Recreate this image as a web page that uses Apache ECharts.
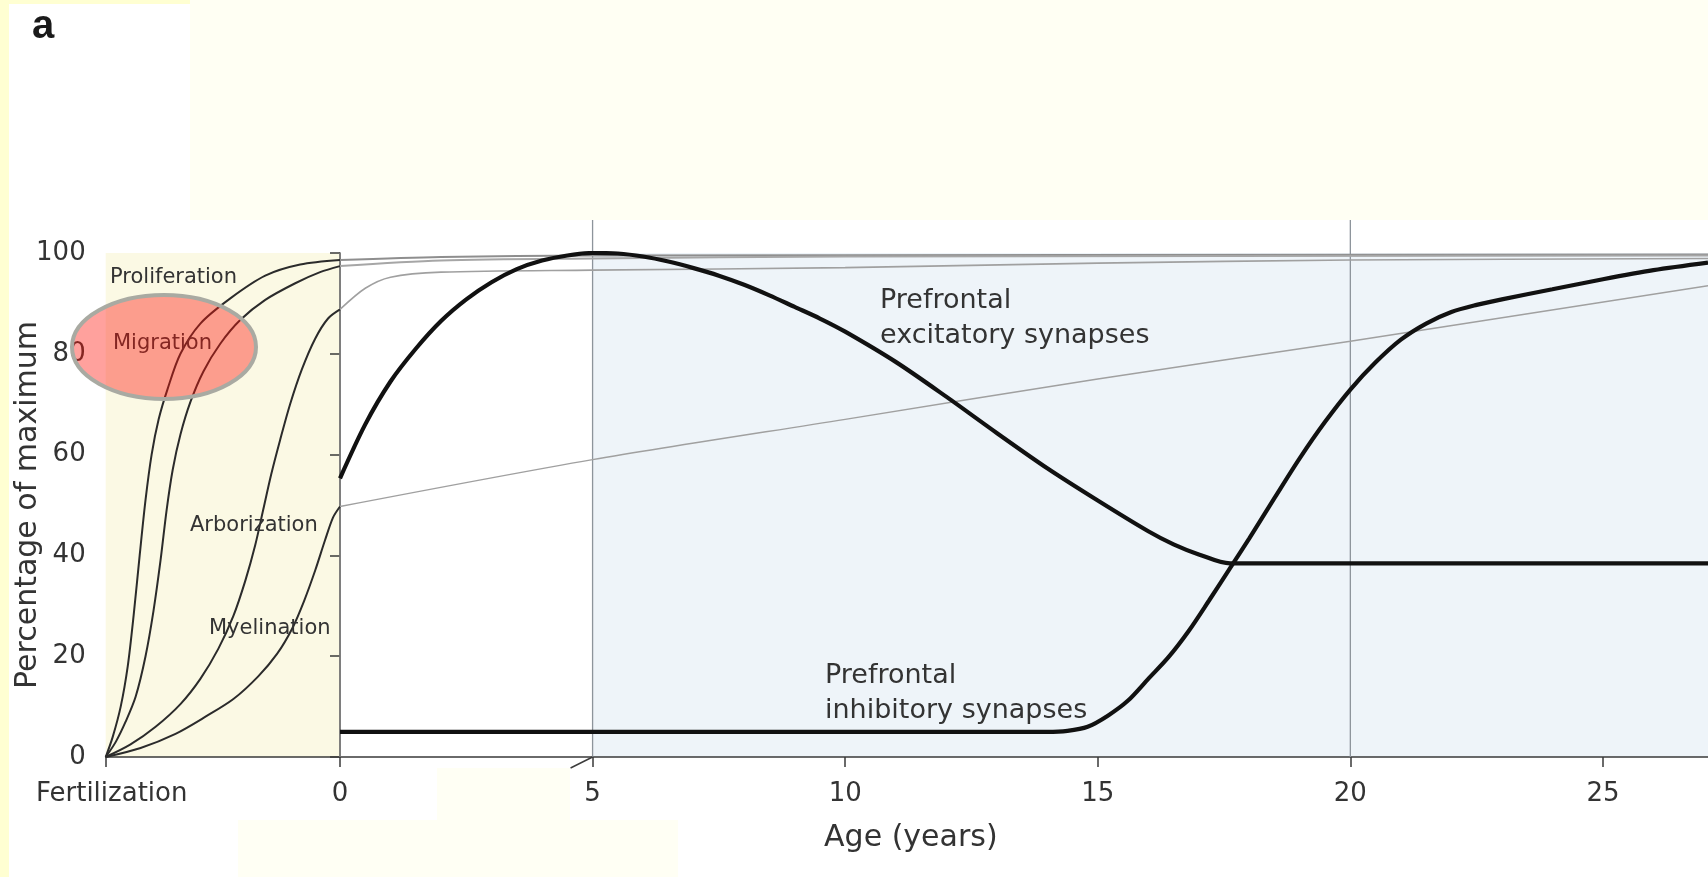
<!DOCTYPE html>
<html>
<head>
<meta charset="utf-8">
<title>Brain development</title>
<script src="https://cdn.jsdelivr.net/npm/echarts@6/dist/echarts.min.js"></script>
<style>
  html, body { margin: 0; padding: 0; background: #ffffd2; }
  #chart { width: 1708px; height: 877px; }
</style>
</head>
<body>
<div id="chart"></div>
<script>
  // axis units given to gestation (fertilization -> birth), the prenatal part is stretched
  const PRE_SPAN = 4.638;
  const X_MAX = 27.08;

  const xTickValues = [-PRE_SPAN, 0, 5, 10, 15, 20, 25];
  const xTickLabels = ['Fertilization', '0', '5', '10', '15', '20', '25'];

  // prenatal curves: [fraction of gestation, % of maximum]
  const proliferationPre = [[0, 0], [0.03, 4], [0.064, 10], [0.094, 18], [0.119, 28], [0.145, 40], [0.17, 51], [0.196, 60], [0.226, 67], [0.264, 73], [0.319, 80], [0.404, 86], [0.532, 91], [0.681, 95.5], [0.83, 97.7], [1, 98.6]];
  const migrationPre = [[0, 0], [0.043, 3], [0.085, 7], [0.128, 12], [0.17, 20], [0.204, 29], [0.234, 39], [0.26, 49], [0.286, 57], [0.319, 64], [0.362, 70.5], [0.417, 76.5], [0.489, 82], [0.574, 86.7], [0.681, 90.7], [0.809, 94], [0.915, 96.2], [1, 97.4]];
  const arborizationPre = [[0, 0], [0.106, 2.5], [0.213, 6], [0.319, 10.5], [0.404, 15.5], [0.481, 21.5], [0.545, 28], [0.596, 35], [0.638, 42], [0.672, 49], [0.706, 56], [0.745, 63], [0.787, 70], [0.838, 77], [0.894, 83], [0.949, 87], [1, 88.8]];
  const myelinationPre = [[0, 0], [0.149, 1.8], [0.298, 4.6], [0.426, 8], [0.545, 11.5], [0.651, 16], [0.732, 20.5], [0.796, 25.5], [0.847, 31], [0.894, 37], [0.936, 43], [0.97, 47.5], [1, 49.7]];

  // postnatal continuations: [age in years, %]
  const proliferationPost = [[0, 98.6], [2, 99.2], [5, 99.5], [27.08, 99.7]];
  const migrationPost = [[0, 97.4], [2, 98.5], [5, 98.9], [10, 99.3], [27.08, 99.5]];
  const arborizationPost = [[0, 88.8], [0.5, 93], [1, 95.2], [2, 96.2], [5, 96.6], [10, 97.1], [15, 98], [20, 98.6], [27.08, 98.9]];
  const myelinationPost = [[0, 49.7], [5, 59], [10, 67], [15, 75], [20, 82.5], [27.08, 93.5]];

  // prefrontal synapses
  const excitatory = [[0, 55.3], [0.5, 66], [1, 74.5], [1.5, 81], [2, 86.5], [2.5, 90.8], [3, 94.2], [3.5, 96.8], [4, 98.5], [4.5, 99.5], [5, 100], [5.5, 99.9], [6, 99.3], [6.5, 98.3], [7, 97], [7.5, 95.5], [8, 93.7], [8.5, 91.6], [9, 89.3], [9.5, 87], [10, 84.4], [11, 78.4], [12, 71.5], [13, 64.3], [14, 57.3], [15, 50.9], [16, 44.8], [16.5, 42.2], [17, 40.2], [17.62, 38.4], [17.9, 38.4], [27.08, 38.4]];
  const inhibitory = [[0, 5], [14, 5], [14.4, 5.2], [14.8, 6], [15.2, 8.2], [15.6, 11.2], [16, 15.5], [16.4, 19.8], [16.8, 25], [17.2, 31], [17.68, 38.4], [18, 43.4], [18.5, 51.4], [19, 59.3], [19.5, 66.5], [20, 72.9], [20.5, 78.3], [21, 82.8], [21.5, 86], [22, 88.3], [22.5, 89.7], [23, 90.8], [24, 92.8], [25, 94.8], [26, 96.6], [27.08, 98.1]];

  const FONT = 'DejaVu Sans';
  const toAxis = (pts) => pts.map((p) => [(p[0] - 1) * PRE_SPAN, p[1]]);

  function curve(name, data, color, width, z) {
    return {
      name: name,
      type: 'line',
      data: data,
      showSymbol: false,
      smooth: 0.3,
      silent: true,
      z: z,
      lineStyle: { color: color, width: width },
    };
  }

  const chart = echarts.init(document.getElementById('chart'), null, { renderer: 'canvas' });

  const option = {
    animation: false,
    backgroundColor: 'transparent',
    grid: { left: 105.7, right: 0, top: 253, bottom: 120, outerBoundsMode: 'none' },
    xAxis: {
      type: 'value',
      min: -PRE_SPAN,
      max: X_MAX,
      splitLine: { show: false },
      axisLine: { show: true, lineStyle: { color: '#3a3a3a', width: 1.5 } },
      axisTick: { show: true, length: 10, customValues: xTickValues, lineStyle: { color: '#3a3a3a', width: 1.5 } },
      axisLabel: {
        customValues: xTickValues,
        margin: 24,
        fontSize: 26,
        fontFamily: FONT,
        color: '#333',
        formatter: (v) => {
          const i = xTickValues.findIndex((t) => Math.abs(t - v) < 1e-6);
          if (i === 0) {
            return '{fert|' + xTickLabels[0] + '}';
          }
          return i >= 0 ? xTickLabels[i] : '';
        },
        rich: {
          fert: { padding: [0, 0, 0, 12], fontSize: 26, fontFamily: FONT, color: '#333' },
        },
      },
      name: 'Age (years)',
      nameLocation: 'middle',
      nameGap: 66,
      nameMoveOverlap: false,
      nameTextStyle: { fontSize: 30, fontFamily: FONT, color: '#333', padding: [0, 0, 0, 8] },
    },
    yAxis: {
      type: 'value',
      min: 0,
      max: 100,
      interval: 20,
      splitLine: { show: false },
      axisLine: { show: true, lineStyle: { color: '#3a3a3a', width: 1.5 } },
      axisTick: { show: true, length: 10, lineStyle: { color: '#3a3a3a', width: 1.5 } },
      axisLabel: { margin: 20, fontSize: 26, fontFamily: FONT, color: '#333' },
      name: 'Percentage of maximum',
      nameLocation: 'middle',
      nameGap: 62,
      nameMoveOverlap: false,
      nameTextStyle: { fontSize: 30, fontFamily: FONT, color: '#333' },
    },
    series: [
      curve('Proliferation', toAxis(proliferationPre), '#2b2b2b', 2, 3),
      curve('Migration', toAxis(migrationPre), '#2b2b2b', 2, 3),
      curve('Arborization', toAxis(arborizationPre), '#2b2b2b', 2, 3),
      curve('Myelination', toAxis(myelinationPre), '#2b2b2b', 2, 3),
      curve('Proliferation (post)', proliferationPost, '#8e8e8e', 2, 3),
      curve('Migration (post)', migrationPost, '#a6a6a6', 2, 3),
      curve('Arborization (post)', arborizationPost, '#a0a0a0', 1.6, 3),
      curve('Myelination (post)', myelinationPost, '#a0a0a0', 1.4, 3),
      curve('Prefrontal excitatory synapses', excitatory, '#111', 4.2, 5),
      curve('Prefrontal inhibitory synapses', inhibitory, '#111', 4.2, 5),
    ],
  };
  chart.setOption(option);

  // decorations placed through the axes
  const px = (v) => chart.convertToPixel({ gridIndex: 0 }, v);
  const preTL = px([-PRE_SPAN, 100]);
  const birth0 = px([0, 0]);
  const birth100 = px([0, 100]);
  const five0 = px([5, 0]);
  const twenty0 = px([20, 0]);
  const blueTL = px([5, 100]);
  const endBR = px([X_MAX, 0]);

  function label(text, x, y, size) {
    return {
      type: 'text', z: 50, silent: true,
      style: { text: text, x: x, y: y, fontSize: size, fontFamily: FONT, fill: '#333', verticalAlign: 'middle' },
    };
  }

  chart.setOption({
    graphic: [
      { type: 'rect', z: -20, silent: true, shape: { x: 9, y: 4, width: 1699, height: 873 }, style: { fill: '#ffffff' } },
      { type: 'rect', z: -19, silent: true, shape: { x: 190, y: 0, width: 1518, height: 220 }, style: { fill: '#fffff3' } },
      { type: 'rect', z: -19, silent: true, shape: { x: 238, y: 820, width: 440, height: 57 }, style: { fill: '#fffff4' } },
      { type: 'rect', z: -19, silent: true, shape: { x: 437, y: 768, width: 133, height: 52 }, style: { fill: '#fffff4' } },
      { type: 'rect', z: -18, silent: true, shape: { x: preTL[0], y: preTL[1], width: birth0[0] - preTL[0], height: birth0[1] - preTL[1] }, style: { fill: '#fbf9e4' } },
      { type: 'rect', z: -18, silent: true, shape: { x: blueTL[0], y: blueTL[1], width: endBR[0] - blueTL[0], height: endBR[1] - blueTL[1] }, style: { fill: '#eef4f9' } },
      { type: 'line', z: 1, silent: true, shape: { x1: birth0[0], y1: birth0[1], x2: birth100[0], y2: birth100[1] }, style: { stroke: '#8a8a8a', lineWidth: 1.3 } },
      { type: 'line', z: 1, silent: true, shape: { x1: five0[0], y1: five0[1], x2: five0[0], y2: 220 }, style: { stroke: '#8d949b', lineWidth: 1.3 } },
      { type: 'line', z: 1, silent: true, shape: { x1: twenty0[0], y1: twenty0[1], x2: twenty0[0], y2: 220 }, style: { stroke: '#8d949b', lineWidth: 1.3 } },
      // axis break mark at 5
      { type: 'line', z: 10, silent: true, shape: { x1: five0[0], y1: five0[1], x2: five0[0] - 22, y2: five0[1] + 11 }, style: { stroke: '#3a3a3a', lineWidth: 1.4 } },

      { type: 'text', z: 50, silent: true, style: { text: 'a', x: 43, y: 27, fontSize: 40, fontWeight: 'bold', fontFamily: 'Liberation Sans', fill: '#1a1a1a', align: 'center', verticalAlign: 'middle' } },

      label('Proliferation', 110, 278, 21),
      label('Migration', 113, 344, 21),
      label('Arborization', 190, 526, 21),
      label('Myelination', 209, 629, 21),
      { type: 'text', z: 50, silent: true, style: { text: 'Prefrontal\nexcitatory synapses', x: 880, y: 283, fontSize: 27, lineHeight: 35, fontFamily: FONT, fill: '#333', verticalAlign: 'top' } },
      { type: 'text', z: 50, silent: true, style: { text: 'Prefrontal\ninhibitory synapses', x: 825, y: 658, fontSize: 27, lineHeight: 35, fontFamily: FONT, fill: '#333', verticalAlign: 'top' } },

      // highlight round "Migration"
      { type: 'ellipse', z: 60, silent: true, shape: { cx: 164, cy: 347, rx: 92, ry: 52 }, style: { fill: 'rgba(255, 20, 10, 0.4)', stroke: '#a9aaa2', lineWidth: 4 } },
    ],
  });
</script>
</body>
</html>
